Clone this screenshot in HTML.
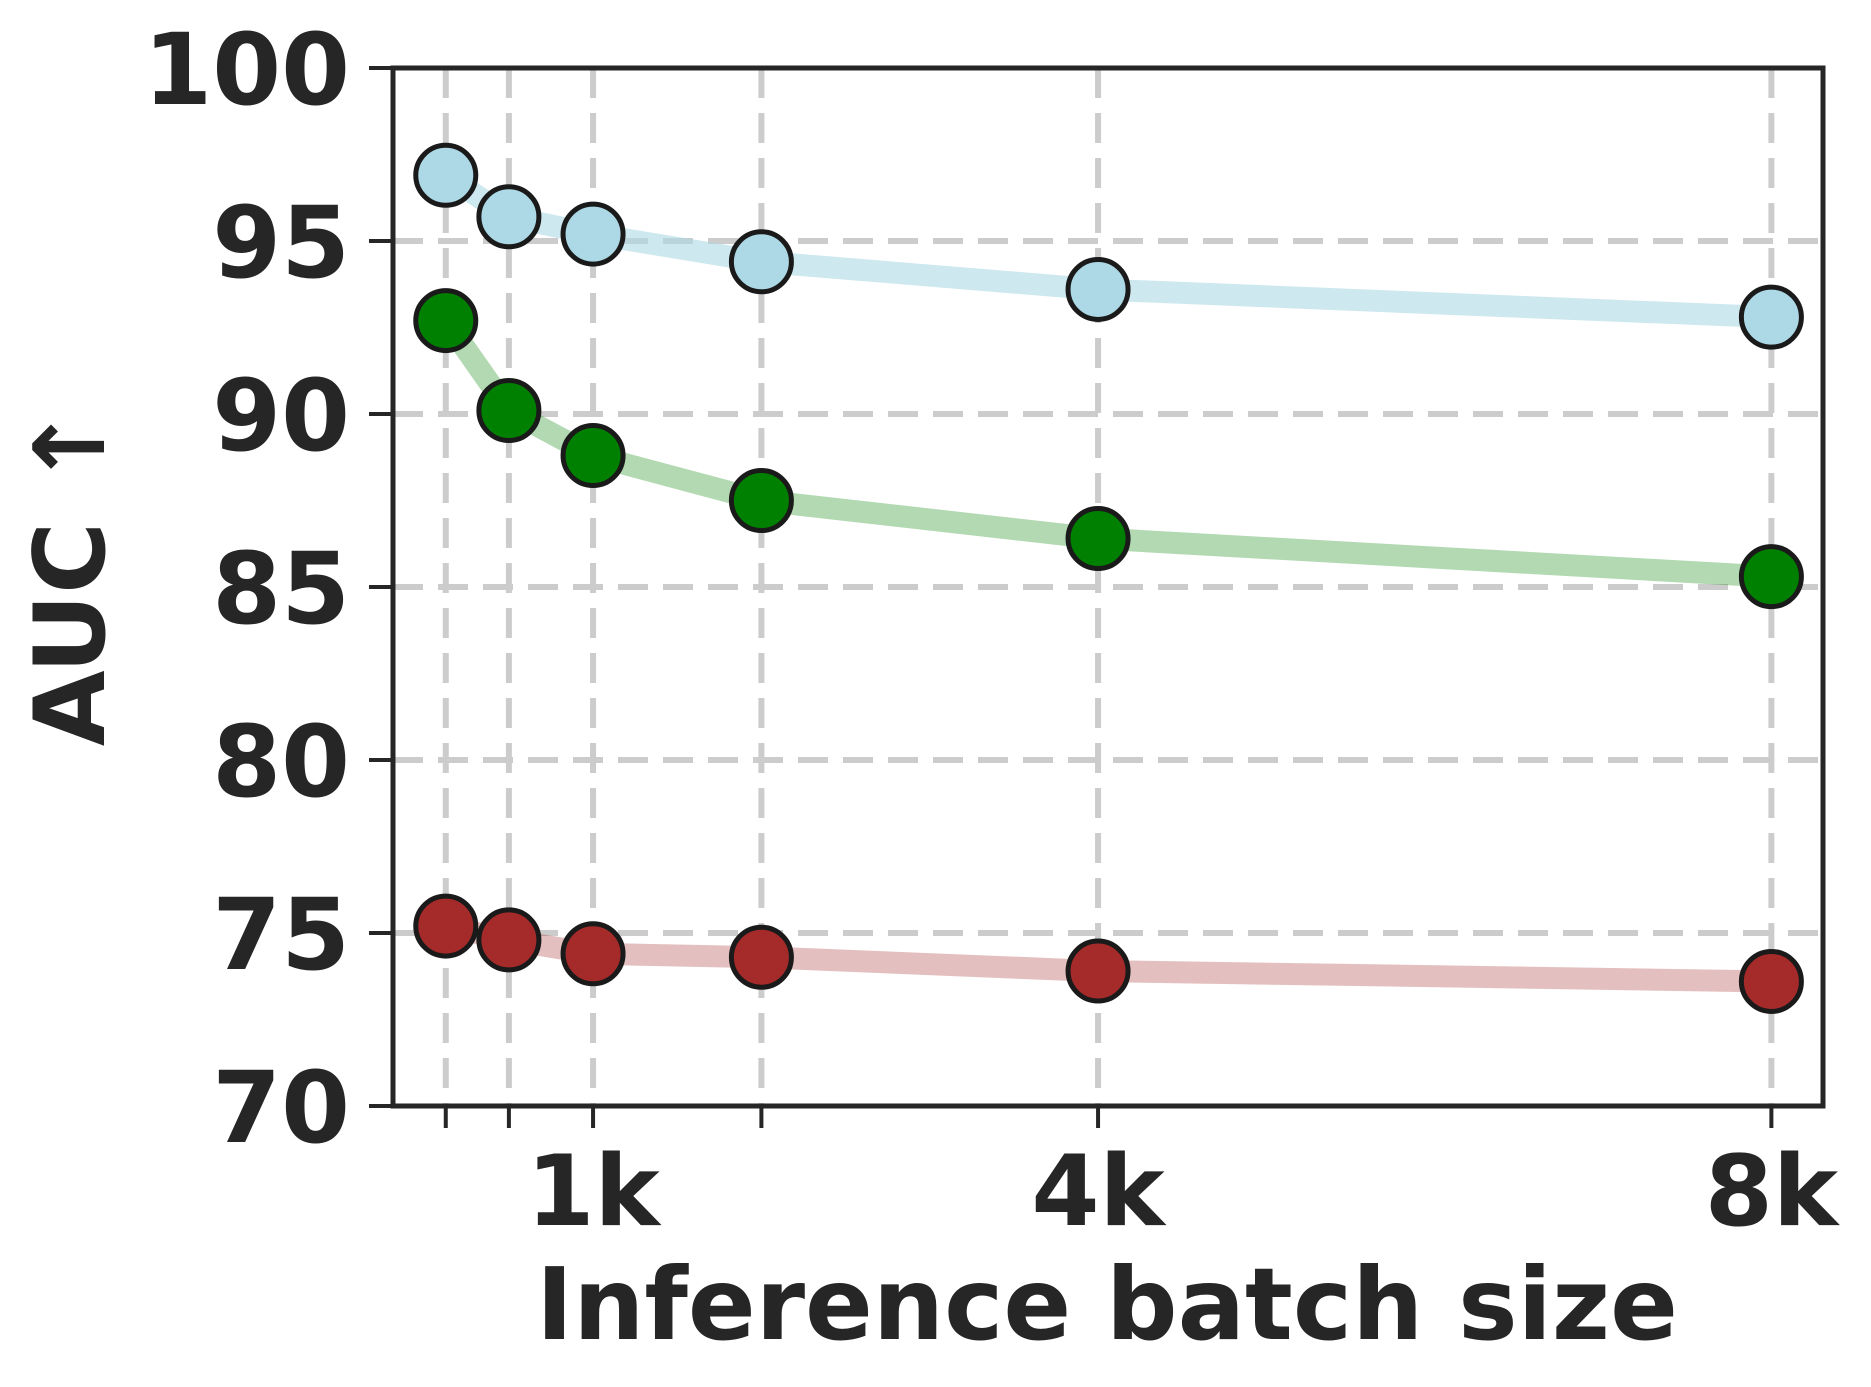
<!DOCTYPE html>
<html><head><meta charset="utf-8"><style>
body{margin:0;background:#fff;}
svg{display:block;font-family:"DejaVu Sans","Liberation Sans",sans-serif;font-weight:bold;}
</style></head><body>
<svg id="chart" width="1871" height="1387" viewBox="0 0 1871 1387">
<g id="grid"></g>
<g id="series"></g>
<rect x="393" y="68" width="1430" height="1038" fill="none" stroke="#262626" stroke-width="5"/>
<g id="axes"></g>
<text x="1107" y="1339" font-size="100" fill="#262626" text-anchor="middle">Inference batch size</text>
<text transform="translate(104,576) rotate(-90)" font-size="98" fill="#262626" text-anchor="middle">AUC ↑</text>
</svg>
<script>
const batchSizes=[128,512,1024,2048,4096,8192];
const blueVals=[96.9,95.7,95.2,94.4,93.6,92.8];
const greenVals=[92.7,90.1,88.8,87.5,86.4,85.3];
const redVals=[75.2,74.8,74.4,74.3,73.9,73.6];
const yTicks=[70,75,80,85,90,95,100];
const xTickLabels=[{v:1024,t:"1k"},{v:4096,t:"4k"},{v:8192,t:"8k"}];
const L=393,R=1823,T=68,B=1106;
const xs=v=>L+(v+193)/(8506+193)*(R-L);
const ys=v=>B-(v-70)/30*(B-T);
const NS="http://www.w3.org/2000/svg";
function mk(tag,attrs,parent){const e=document.createElementNS(NS,tag);for(const k in attrs)e.setAttribute(k,attrs[k]);parent.appendChild(e);return e;}
const grid=document.getElementById('grid'),axes=document.getElementById('axes'),ser=document.getElementById('series');
batchSizes.forEach(v=>{
 const g=mk('line',{x1:xs(v),x2:xs(v),y1:T,y2:B,stroke:'#cccccc','stroke-width':6,'stroke-dasharray':'30 15'},grid);
 
 
 const t=mk('line',{x1:xs(v),x2:xs(v),y1:B,y2:B+22,stroke:'#262626','stroke-width':4},axes);
 
 
});
yTicks.forEach(v=>{
 if(v>70&&v<100){const g=mk('line',{x1:L,x2:R,y1:ys(v),y2:ys(v),stroke:'#cccccc','stroke-width':6,'stroke-dasharray':'30 15'},grid);
 
 }
 const t=mk('line',{x1:L-24,x2:L,y1:ys(v),y2:ys(v),stroke:'#262626','stroke-width':4},axes);
 
 
 const tx=mk('text',{x:350,y:ys(v)+36,'font-size':99,fill:'#262626','text-anchor':'end'},axes);
 tx.textContent=v;
 
 
});
xTickLabels.forEach(o=>{
 const tx=mk('text',{x:xs(o.v),y:1225,'font-size':98,fill:'#262626','text-anchor':'middle'},axes);
 tx.textContent=o.t;
 
 
});
[[blueVals,'#add8e6','blue',0.6],[greenVals,'#008000','green',0.3],[redVals,'#a52a2a','red',0.3]].forEach(([vals,c,n,op])=>{
 const p=mk('polyline',{points:batchSizes.map((b,i)=>xs(b)+','+ys(vals[i])).join(' '),fill:'none',stroke:c,'stroke-opacity':op,'stroke-width':22,'stroke-linejoin':'round'},ser);
 
 
 vals.forEach((v,i)=>{
  const m=mk('circle',{cx:xs(batchSizes[i]),cy:ys(v),r:30,fill:c,stroke:'#1a1a1a','stroke-width':5},ser);
  
  
 });
});
</script>
</body></html>
